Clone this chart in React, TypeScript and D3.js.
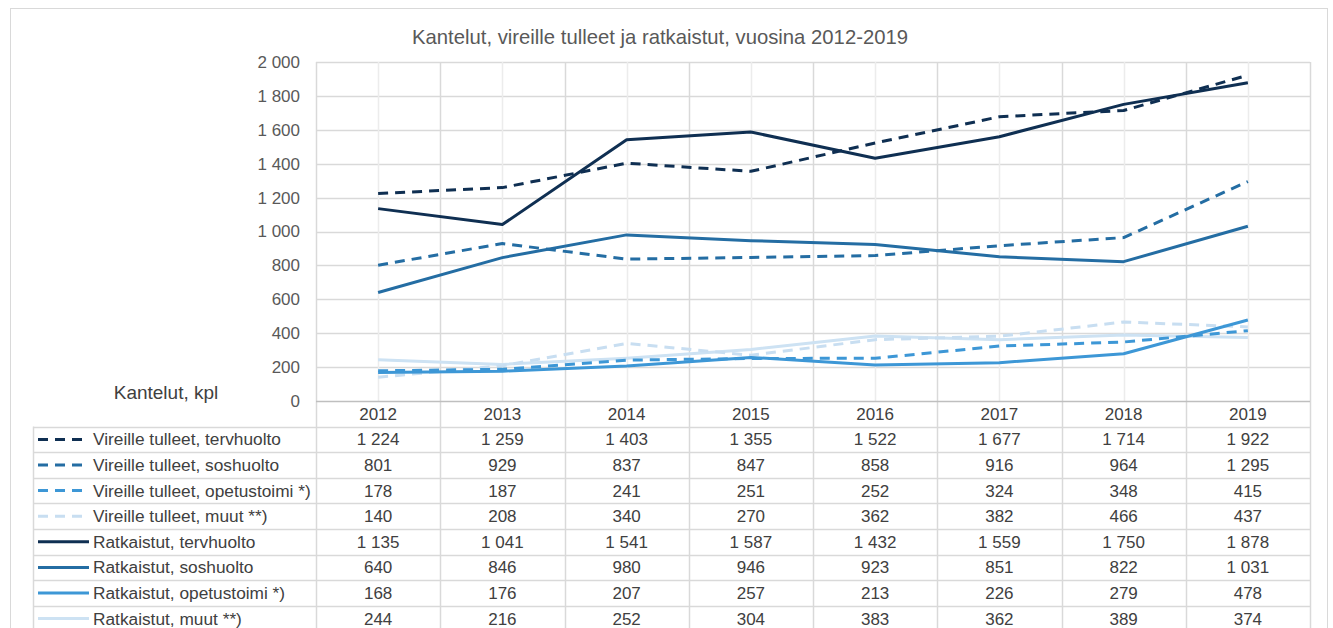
import { useEffect, useRef } from "react";
import * as d3 from "d3";

const TITLE = "Kantelut, vireille tulleet ja ratkaistut, vuosina 2012-2019";
const Y_TITLE = "Kantelut, kpl";

const years = ["2012", "2013", "2014", "2015", "2016", "2017", "2018", "2019"];

const seriesNames = [
  "Vireille tulleet, tervhuolto",
  "Vireille tulleet, soshuolto",
  "Vireille tulleet, opetustoimi *)",
  "Vireille tulleet, muut **)",
  "Ratkaistut, tervhuolto",
  "Ratkaistut, soshuolto",
  "Ratkaistut, opetustoimi *)",
  "Ratkaistut, muut **)",
];

const vireilleTerv = [1224, 1259, 1403, 1355, 1522, 1677, 1714, 1922];
const vireilleSos = [801, 929, 837, 847, 858, 916, 964, 1295];
const vireilleOpet = [178, 187, 241, 251, 252, 324, 348, 415];
const vireilleMuut = [140, 208, 340, 270, 362, 382, 466, 437];
const ratkaistutTerv = [1135, 1041, 1541, 1587, 1432, 1559, 1750, 1878];
const ratkaistutSos = [640, 846, 980, 946, 923, 851, 822, 1031];
const ratkaistutOpet = [168, 176, 207, 257, 213, 226, 279, 478];
const ratkaistutMuut = [244, 216, 252, 304, 383, 362, 389, 374];

const yTicks = [0, 200, 400, 600, 800, 1000, 1200, 1400, 1600, 1800, 2000];

const COLORS = ["#0f2f52", "#246da3", "#3d97d6", "#c8def1", "#0f2f52", "#246da3", "#3d97d6", "#cde2f3"];
const DASHED = [true, true, true, true, false, false, false, false];

const FONT = "'Liberation Sans', Arial, sans-serif";
const GRID = "#d9d9d9";

// Finnish style thousands: "1 224"
const fmt = (n: number) => {
  const s = String(n);
  return s.length > 3 ? s.slice(0, s.length - 3) + " " + s.slice(-3) : s;
};

export default function App() {
  const ref = useRef<SVGSVGElement>(null);

  useEffect(() => {
    if (!ref.current) return;
    const el = ref.current;
    const width = 1333;
    const height = 628;

    d3.select(el).selectAll("*").remove();

    const allValues = [
      vireilleTerv, vireilleSos, vireilleOpet, vireilleMuut,
      ratkaistutTerv, ratkaistutSos, ratkaistutOpet, ratkaistutMuut,
    ];

    const plot = { left: 316, right: 1310, top: 62, bottom: 401 };
    const tableLeft = 33;
    const rowH = 25.6;
    const headerTop = 401;
    const firstRowTop = headerTop + rowH;

    const x = d3.scaleBand<string>().domain(years).range([plot.left, plot.right]);
    const xc = (yr: string) => (x(yr) ?? 0) + x.bandwidth() / 2;
    const y = d3.scaleLinear().domain([0, 2000]).range([plot.bottom, plot.top]);

    const svg = d3.select(el).attr("width", width).attr("height", height);

    svg.append("rect").attr("width", width).attr("height", height).attr("fill", "#fff");

    // chart frame
    svg
      .append("rect")
      .attr("x", 10.5)
      .attr("y", 8.5)
      .attr("width", 1317)
      .attr("height", 700)
      .attr("fill", "none")
      .attr("stroke", GRID);

    // title
    svg
      .append("text")
      .attr("x", 660)
      .attr("y", 44)
      .attr("text-anchor", "middle")
      .style("font-family", FONT)
      .style("font-size", "20.3px")
      .style("fill", "#595959")
      .text(TITLE);

    // horizontal gridlines
    svg
      .append("g")
      .selectAll("line")
      .data(yTicks.filter((t) => t > 0))
      .join("line")
      .attr("x1", plot.left)
      .attr("x2", plot.right)
      .attr("y1", (d) => Math.round(y(d)) + 0.5)
      .attr("y2", (d) => Math.round(y(d)) + 0.5)
      .attr("stroke", GRID)
      .attr("stroke-width", 1.5);

    // vertical gridlines at category centres (plot area only)
    svg
      .append("g")
      .selectAll("line")
      .data(years)
      .join("line")
      .attr("x1", (d) => Math.round(xc(d)) + 0.5)
      .attr("x2", (d) => Math.round(xc(d)) + 0.5)
      .attr("y1", plot.top)
      .attr("y2", plot.bottom)
      .attr("stroke", "#ececec")
      .attr("stroke-width", 1.5);

    // vertical gridlines at band boundaries, running through the table
    const bounds = years.map((yr) => x(yr) ?? 0).concat([plot.right]);
    const tableBottom = firstRowTop + rowH * seriesNames.length;
    svg
      .append("g")
      .selectAll("line")
      .data(bounds)
      .join("line")
      .attr("x1", (d) => Math.round(d) + 0.5)
      .attr("x2", (d) => Math.round(d) + 0.5)
      .attr("y1", plot.top)
      .attr("y2", tableBottom)
      .attr("stroke", GRID)
      .attr("stroke-width", 1.5);

    // table horizontal rules
    const rowTops = d3.range(seriesNames.length + 1).map((i) => firstRowTop + i * rowH);
    svg
      .append("g")
      .selectAll("line")
      .data(rowTops)
      .join("line")
      .attr("x1", tableLeft)
      .attr("x2", plot.right)
      .attr("y1", (d) => Math.round(d) + 0.5)
      .attr("y2", (d) => Math.round(d) + 0.5)
      .attr("stroke", GRID)
      .attr("stroke-width", 1.5);

    svg
      .append("line")
      .attr("x1", tableLeft + 0.5)
      .attr("x2", tableLeft + 0.5)
      .attr("y1", firstRowTop)
      .attr("y2", tableBottom)
      .attr("stroke", GRID)
      .attr("stroke-width", 1.5);

    // x axis line / header top
    svg
      .append("line")
      .attr("x1", plot.left)
      .attr("x2", plot.right)
      .attr("y1", plot.bottom + 0.5)
      .attr("y2", plot.bottom + 0.5)
      .attr("stroke", "#bfbfbf")
      .attr("stroke-width", 1.5);

    // y axis labels
    svg
      .append("g")
      .selectAll("text")
      .data(yTicks)
      .join("text")
      .attr("x", 300)
      .attr("y", (d) => y(d))
      .attr("dy", "0.35em")
      .attr("text-anchor", "end")
      .style("font-family", FONT)
      .style("font-size", "17px")
      .style("fill", "#595959")
      .text((d) => fmt(d));

    svg
      .append("text")
      .attr("x", 166)
      .attr("y", 392)
      .attr("dy", "0.35em")
      .attr("text-anchor", "middle")
      .style("font-family", FONT)
      .style("font-size", "19px")
      .style("fill", "#404040")
      .text(Y_TITLE);

    // header years
    svg
      .append("g")
      .selectAll("text")
      .data(years)
      .join("text")
      .attr("x", (d) => xc(d))
      .attr("y", headerTop + rowH / 2)
      .attr("dy", "0.35em")
      .attr("text-anchor", "middle")
      .style("font-family", FONT)
      .style("font-size", "17px")
      .style("fill", "#404040")
      .text((d) => d);

    // lines, drawn back to front so darker series sit on top
    const line = d3
      .line<number>()
      .x((_, i) => xc(years[i]))
      .y((d) => y(d));

    const order = [7, 3, 6, 2, 5, 1, 4, 0];
    svg
      .append("g")
      .selectAll("path")
      .data(order)
      .join("path")
      .attr("d", (i) => line(allValues[i]))
      .attr("fill", "none")
      .attr("stroke", (i) => COLORS[i])
      .attr("stroke-width", 3)
      .attr("stroke-dasharray", (i) => (DASHED[i] ? "10,7" : null))
      .attr("stroke-linejoin", "round");

    // table rows
    const rows = svg
      .append("g")
      .selectAll("g")
      .data(seriesNames)
      .join("g")
      .attr("transform", (_, i) => `translate(0,${firstRowTop + i * rowH + rowH / 2})`);

    rows
      .append("line")
      .attr("x1", 38)
      .attr("x2", 89)
      .attr("y1", 0)
      .attr("y2", 0)
      .attr("stroke", (_, i) => COLORS[i])
      .attr("stroke-width", 3)
      .attr("stroke-dasharray", (_, i) => (DASHED[i] ? "10,7" : null));

    rows
      .append("text")
      .attr("x", 93)
      .attr("dy", "0.35em")
      .style("font-family", FONT)
      .style("font-size", "17.3px")
      .style("fill", "#404040")
      .text((d) => d);

    rows.each(function (_, i) {
      d3.select(this)
        .selectAll("text.val")
        .data(allValues[i])
        .join("text")
        .attr("class", "val")
        .attr("x", (_, j) => xc(years[j]))
        .attr("dy", "0.35em")
        .attr("text-anchor", "middle")
        .style("font-family", FONT)
        .style("font-size", "17px")
        .style("fill", "#404040")
        .text((v) => fmt(v));
    });
  }, []);

  return (
    <div style={{ position: "fixed", left: 0, top: 0 }}>
      <svg ref={ref} style={{ display: "block" }} />
    </div>
  );
}
